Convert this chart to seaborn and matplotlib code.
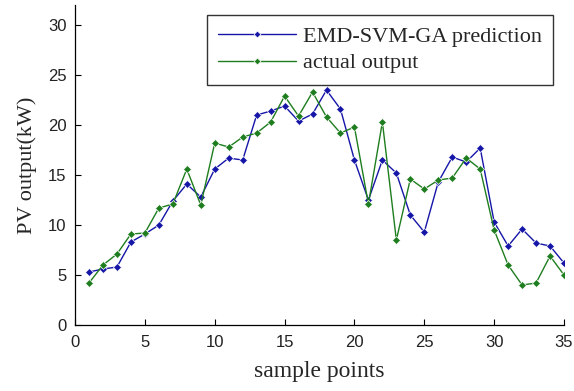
import matplotlib
matplotlib.use("Agg")
import matplotlib.pyplot as plt
import seaborn as sns
import pandas as pd

samples = list(range(1, 36))
prediction = [5.3, 5.6, 5.8, 8.3, 9.1, 10.0, 12.4, 14.1, 12.8, 15.6,
              16.7, 16.5, 21.0, 21.4, 21.9, 20.4, 21.1, 23.5, 21.6, 16.5,
              12.5, 16.5, 15.2, 11.0, 9.3, 14.3, 16.8, 16.3, 17.7, 10.3,
              7.9, 9.6, 8.2, 7.9, 6.2]
actual = [4.2, 6.0, 7.1, 9.1, 9.2, 11.7, 12.1, 15.6, 12.0, 18.2,
          17.8, 18.8, 19.2, 20.3, 22.9, 20.9, 23.3, 20.8, 19.2, 19.8,
          12.1, 20.3, 8.5, 14.6, 13.6, 14.5, 14.7, 16.7, 15.6, 9.5,
          6.0, 4.0, 4.2, 6.9, 5.0]
series_names = ["EMD-SVM-GA prediction", "actual output"]
x_ticks = [0, 5, 10, 15, 20, 25, 30, 35]
y_ticks = [0, 5, 10, 15, 20, 25, 30]

df = pd.DataFrame({
    "sample": samples * 2,
    "value": prediction + actual,
    "series": [series_names[0]] * len(samples) + [series_names[1]] * len(samples),
})

sns.set_theme(style="white")
plt.rcParams["font.family"] = ["Liberation Sans", "DejaVu Sans"]

fig = plt.figure(figsize=(5.74, 3.91), dpi=100)
ax = fig.add_axes([0.1307, 0.1688, 0.8519, 0.8182])

palette = {series_names[0]: "#1515a8", series_names[1]: "#1e7d1e"}
sns.lineplot(data=df, x="sample", y="value", hue="series", palette=palette,
             marker="D", markersize=4.5, markeredgewidth=0.5, linewidth=1.0,
             ax=ax, legend=True)

ax.set_xlim(0, 35)
ax.set_ylim(0, 32)
ax.set_xticks(x_ticks)
ax.set_yticks(y_ticks)
ax.tick_params(direction="in", length=4, width=0.8, colors="black",
               labelsize=12, bottom=True, left=True, top=False, right=False)
ax.tick_params(axis="x", pad=7)
ax.tick_params(axis="y", pad=6)
for lab in ax.get_xticklabels() + ax.get_yticklabels():
    lab.set_color("#222222")
for s in ["top", "right"]:
    ax.spines[s].set_visible(False)
for s in ["left", "bottom"]:
    ax.spines[s].set_color("black")
    ax.spines[s].set_linewidth(0.9)

ax.set_xlabel("sample points", fontsize=17, family="Liberation Serif", labelpad=8)
ax.set_ylabel("PV output(kW)", fontsize=16, family="Liberation Serif", labelpad=8)

handles, labels = ax.get_legend_handles_labels()
for h in handles:
    h.set_markersize(3.5)
leg = ax.legend(handles, labels, loc="upper right", bbox_to_anchor=(0.977, 0.969),
                prop={"family": "Liberation Serif", "size": 16},
                frameon=True, fancybox=False, edgecolor="black",
                handlelength=3.5, borderpad=0.5, labelspacing=0.28,
                handletextpad=0.3, borderaxespad=0.0)
leg.get_frame().set_linewidth(1.0)

fig.savefig("out.png", dpi=100, facecolor="white")
